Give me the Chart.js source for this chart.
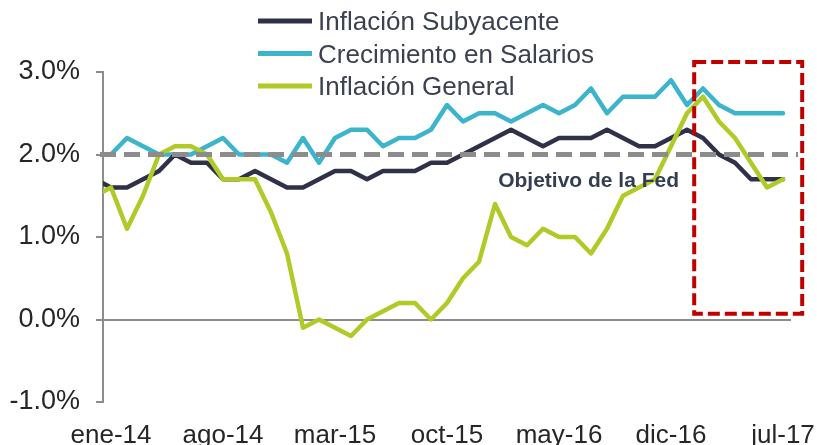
<!DOCTYPE html>
<html>
<head>
<meta charset="utf-8">
<title>Inflación y salarios</title>
<script src="https://cdn.jsdelivr.net/npm/chart.js@4"></script>
<style>
  html, body { margin: 0; padding: 0; background: #fff; }
  .chart-box { position: relative; width: 817px; height: 445px; }
</style>
</head>
<body>
<div class="chart-box"><canvas id="chart"></canvas></div>
<script>
// monthly, dic-13 .. jul-17 (dic-13 only feeds the clipped stub at the left edge)
const months = [
  'dic-13',
  'ene-14', 'feb-14', 'mar-14', 'abr-14', 'may-14', 'jun-14', 'jul-14', 'ago-14', 'sep-14', 'oct-14', 'nov-14', 'dic-14',
  'ene-15', 'feb-15', 'mar-15', 'abr-15', 'may-15', 'jun-15', 'jul-15', 'ago-15', 'sep-15', 'oct-15', 'nov-15', 'dic-15',
  'ene-16', 'feb-16', 'mar-16', 'abr-16', 'may-16', 'jun-16', 'jul-16', 'ago-16', 'sep-16', 'oct-16', 'nov-16', 'dic-16',
  'ene-17', 'feb-17', 'mar-17', 'abr-17', 'may-17', 'jun-17', 'jul-17'
];
const coreInflation = [
  1.7,
  1.6, 1.6, 1.7, 1.8, 2.0, 1.9, 1.9, 1.7, 1.7, 1.8, 1.7, 1.6,
  1.6, 1.7, 1.8, 1.8, 1.7, 1.8, 1.8, 1.8, 1.9, 1.9, 2.0, 2.1,
  2.2, 2.3, 2.2, 2.1, 2.2, 2.2, 2.2, 2.3, 2.2, 2.1, 2.1, 2.2,
  2.3, 2.2, 2.0, 1.9, 1.7, 1.7, 1.7
];
const wageGrowth = [
  null,
  2.0, 2.2, 2.1, 2.0, 2.0, 2.0, 2.1, 2.2, 2.0, 2.0, 2.0, 1.9,
  2.2, 1.9, 2.2, 2.3, 2.3, 2.1, 2.2, 2.2, 2.3, 2.6, 2.4, 2.5,
  2.5, 2.4, 2.5, 2.6, 2.5, 2.6, 2.8, 2.5, 2.7, 2.7, 2.7, 2.9,
  2.6, 2.8, 2.6, 2.5, 2.5, 2.5, 2.5
];
const headlineInflation = [
  1.5,
  1.6, 1.1, 1.5, 2.0, 2.1, 2.1, 2.0, 1.7, 1.7, 1.7, 1.3, 0.8,
  -0.1, 0.0, -0.1, -0.2, 0.0, 0.1, 0.2, 0.2, 0.0, 0.2, 0.5, 0.7,
  1.4, 1.0, 0.9, 1.1, 1.0, 1.0, 0.8, 1.1, 1.5, 1.6, 1.7, 2.1,
  2.5, 2.7, 2.4, 2.2, 1.9, 1.6, 1.7
];
const labelEvery = 7;          // ene-14, ago-14, mar-15 ...
const yTicks = [-1, 0, 1, 2, 3];
const fedTarget = 2.0;
const fedLabel = 'Objetivo de la Fed';
// red dashed highlight around the last months (scale units)
const highlight = { x0: 37.45, x1: 44.2, y0: 0.07, y1: 3.12 };

const FONT = '"Liberation Sans", Arial, sans-serif';
const pts = arr => arr.map((v, i) => ({ x: i, y: v }));

const line = (label, values, color, order) => ({
  label, data: pts(values), borderColor: color, backgroundColor: color,
  borderWidth: 4.5, pointRadius: 0, tension: 0, order,
  borderCapStyle: 'round', borderJoinStyle: 'round',
  clip: { left: 0, top: false, right: false, bottom: false }
});

const overlay = {
  id: 'overlay',
  afterDatasetsDraw(chart) {
    const { ctx, chartArea: a, scales: { x, y } } = chart;
    ctx.save();
    // Fed target
    const yT = y.getPixelForValue(fedTarget);
    ctx.strokeStyle = '#8c8c8c';
    ctx.lineWidth = 5;
    ctx.setLineDash([16, 8]);
    ctx.beginPath();
    ctx.moveTo(a.left - 3, yT);
    ctx.lineTo(a.right + 7, yT);
    ctx.stroke();
    ctx.setLineDash([]);
    ctx.font = 'bold 21px ' + FONT;
    ctx.fillStyle = '#333f50';
    ctx.textAlign = 'right';
    ctx.textBaseline = 'alphabetic';
    ctx.fillText(fedLabel, x.getPixelForValue(36.5), yT + 32);

    // highlight box
    ctx.strokeStyle = '#c00000';
    ctx.lineWidth = 4;
    ctx.setLineDash([12, 5]);
    const l = x.getPixelForValue(highlight.x0), r = x.getPixelForValue(highlight.x1);
    const t = y.getPixelForValue(highlight.y1), b = y.getPixelForValue(highlight.y0);
    ctx.strokeRect(l, t, r - l, b - t);
    ctx.restore();
  },
  afterDraw(chart) {
    const ctx = chart.ctx;
    ctx.save();
    ctx.font = '26px ' + FONT;
    ctx.textAlign = 'left';
    ctx.textBaseline = 'alphabetic';
    chart.data.datasets.forEach((ds, i) => {
      const yy = 21 + i * 32.5;
      ctx.strokeStyle = ds.borderColor;
      ctx.lineWidth = 5;
      ctx.beginPath();
      ctx.moveTo(258, yy);
      ctx.lineTo(312, yy);
      ctx.stroke();
      ctx.fillStyle = '#3b4150';
      ctx.fillText(ds.label, 318, yy + 9);
    });
    ctx.restore();
  }
};

new Chart(document.getElementById('chart'), {
  type: 'line',
  data: {
    datasets: [
      line('Inflación Subyacente', coreInflation, '#2f3148', 1),
      line('Crecimiento en Salarios', wageGrowth, '#3cb4cc', 2),
      line('Inflación General', headlineInflation, '#aecb27', 0)
    ]
  },
  options: {
    responsive: true,
    maintainAspectRatio: false,
    animation: false,
    layout: { padding: { top: 72, right: 26, bottom: 0, left: 0 } },
    plugins: { legend: { display: false }, tooltip: { enabled: false } },
    scales: {
      x: {
        type: 'linear',
        min: 0.5,
        max: months.length - 0.5,
        afterFit: s => { s.height = 43; s.paddingLeft = 0; s.paddingRight = 0; },
        afterBuildTicks: s => {
          s.ticks = months.map((m, i) => i).filter(i => i % labelEvery === 1).map(v => ({ value: v }));
        },
        border: { display: false },
        grid: { display: false, drawTicks: false },
        ticks: {
          autoSkip: false,
          maxRotation: 0,
          padding: 18,
          color: '#262626',
          font: { family: FONT, size: 26 },
          callback: v => months[v]
        }
      },
      y: {
        min: -1,
        max: 3,
        afterFit: s => { s.width = 103; s.paddingTop = 0; s.paddingBottom = 0; },
        afterBuildTicks: s => { s.ticks = yTicks.map(v => ({ value: v })); },
        border: { display: true, color: '#8c8c8c', width: 2 },
        grid: {
          drawOnChartArea: true,
          color: c => (c.tick && c.tick.value === 0 ? '#8c8c8c' : 'rgba(0,0,0,0)'),
          tickColor: '#8c8c8c',
          lineWidth: 2,
          tickLength: 7
        },
        ticks: {
          padding: 16,
          color: '#262626',
          font: { family: FONT, size: 27 },
          callback: v => v.toFixed(1) + '%'
        }
      }
    }
  },
  plugins: [overlay]
});
</script>
</body>
</html>
